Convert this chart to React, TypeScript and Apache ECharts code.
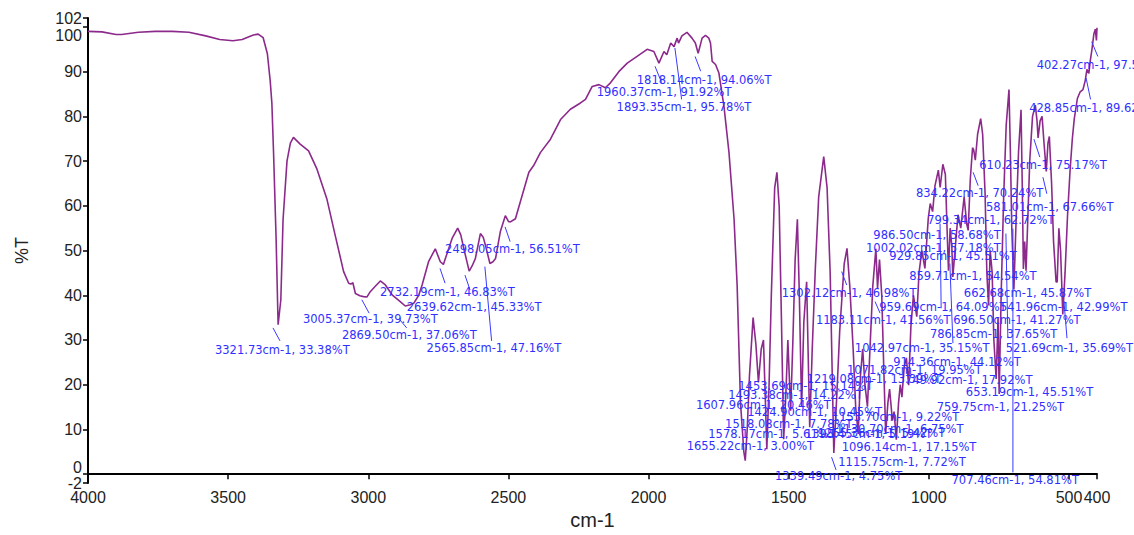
import React, { useEffect, useRef } from "react";
import * as echarts from "echarts";

// Spectrum (wavenumber cm-1, %T)
const wavenumbers = [
  4000, 3950, 3900, 3880, 3820, 3760, 3700, 3640, 3580, 3530, 3483, 3450, 3410, 3393, 3375, 3360, 3350, 3344, 3338, 3329,
  3321.7, 3312, 3304, 3290, 3278, 3267, 3243, 3213, 3183, 3148, 3118, 3088, 3070, 3062, 3055, 3046, 3030, 3017, 3005, 2993,
  2975, 2957, 2939, 2915, 2886, 2868, 2850, 2838, 2820, 2808, 2785, 2761, 2743, 2732, 2725, 2701, 2681, 2670, 2659, 2640,
  2630, 2618, 2600, 2590, 2582, 2566, 2555, 2546, 2529, 2511, 2500, 2493, 2475, 2451, 2427, 2410, 2386, 2350, 2314, 2279,
  2243, 2225, 2201, 2177, 2154, 2136, 2106, 2076, 2041, 2005, 1981, 1963, 1945, 1935, 1921, 1909, 1898, 1893, 1881, 1863,
  1845, 1833, 1823, 1809, 1797, 1785, 1779, 1773, 1761, 1749, 1731, 1713, 1695, 1684, 1672, 1660, 1655, 1648, 1640, 1627,
  1617, 1608, 1598, 1590, 1584, 1578, 1570, 1562, 1550, 1542, 1534, 1526, 1518, 1510, 1503, 1493, 1485, 1477, 1469, 1462,
  1454, 1446, 1436, 1425, 1416, 1405, 1393, 1375, 1363, 1352, 1339, 1328, 1318, 1302, 1292, 1282, 1270, 1261, 1252, 1244,
  1236, 1228, 1219, 1210, 1200, 1189, 1183, 1176, 1168, 1160, 1154, 1146, 1140, 1130, 1124, 1116, 1108, 1102, 1096, 1088,
  1080, 1072, 1064, 1055, 1043, 1035, 1025, 1014, 1002, 995, 986.5, 978, 966, 959.7, 950, 941, 935, 929.9, 924, 918,
  914.4, 904, 896, 886, 874, 865, 859.7, 852, 844, 840, 834.2, 826, 815, 808, 799.3, 793, 786.9, 781, 774, 768,
  759.8, 753, 749, 742, 733, 724, 714, 709, 704, 696.5, 688, 680, 671, 666, 662.7, 658, 653.2, 648, 640, 630,
  620, 614, 610.2, 603, 596, 589, 581, 575, 570, 562, 555, 546, 542, 536, 530, 522, 514, 505, 496, 488,
  481, 470, 460, 450, 442, 436, 429, 425, 418, 411, 406, 402, 400,
];
const transmittance = [
  99.0, 98.9, 98.3, 98.3, 98.8, 99.0, 99.0, 98.8, 98.0, 97.2, 96.9, 97.2, 98.2, 98.4, 97.6, 94, 88, 83, 72, 53,
  33.4, 39, 57, 70, 74, 75.3, 73.8, 72.3, 68.2, 61.6, 53.4, 45.3, 42.7, 42.5, 42.8, 40.4, 39.9, 39.7, 39.6, 40.8,
  42, 43.2, 42.3, 40.1, 38.6, 37.6, 37.9, 38.2, 40, 42.3, 47.5, 50.4, 47.5, 46.9, 48.2, 52.7, 55, 53.5, 50.4, 45.4,
  46.5, 48.2, 53.8, 53, 51.2, 47.1, 47.5, 48.2, 54.2, 57.8, 56.5, 56.4, 57.1, 62.3, 67.5, 69, 71.9, 74.9, 79.3, 81.6,
  83, 83.8, 86.7, 87.1, 86.4, 87.5, 90, 91.9, 93.4, 95, 94.5, 91.9, 94.5, 93.8, 96.4, 95.6, 97.5, 96.4, 98, 98.8,
  97.5, 96.4, 94.1, 97.5, 98.1, 97.5, 96.4, 92.3, 91.6, 89.7, 82.3, 71.9, 57.1, 42.3, 16, 5, 3.0, 10, 22, 35,
  29, 20.5, 28, 30, 18, 5.6, 20, 40, 64, 67.5, 60, 35, 7.8, 18, 30, 14.2, 30, 48, 57, 40,
  15.2, 34, 43, 10.5, 28, 46, 62, 71, 64, 45, 4.75, 18, 32, 47, 50.5, 42, 28, 15, 9, 22,
  28, 20, 15.1, 28, 42, 50.4, 41.6, 48, 40, 22, 9.2, 16, 19, 12, 14, 7.7, 16, 20, 17.2, 24,
  26, 19.9, 33, 40, 35.2, 45, 50, 46, 57.2, 60.5, 58.7, 64.5, 68, 64.1, 69.3, 67, 55, 45.5, 55, 51,
  44.1, 52, 58, 55, 62, 56, 54.5, 66, 73, 72.5, 70.2, 76, 79.5, 76, 62.7, 45, 37.7, 50, 45, 30,
  21.3, 35, 17.9, 40, 62, 78, 86, 72, 55, 41.3, 58, 72, 81.5, 62, 45.9, 52, 45.5, 55, 70, 80,
  82.5, 79, 75.2, 79, 80, 74, 67.7, 74, 75.5, 65, 52, 43, 43, 55, 50, 35.7, 45, 58, 68, 75,
  79.5, 84, 85.5, 86, 88, 90.5, 89.6, 92, 95, 98.5, 99.5, 97, 99.8,
];

const xTicks = [4000, 3500, 3000, 2500, 2000, 1500, 1000, 500, 400];
const yTicks = [-2, 0, 10, 20, 30, 40, 50, 60, 70, 80, 90, 100, 102];

// Peak annotations: text, label anchor (wavenumber, %T) at the text's left edge
const annotationTexts = [
  "3321.73cm-1, 33.38%T", "3005.37cm-1, 39.73%T", "2869.50cm-1, 37.06%T", "2732.19cm-1, 46.83%T",
  "2639.62cm-1, 45.33%T", "2565.85cm-1, 47.16%T", "2498.05cm-1, 56.51%T", "1818.14cm-1, 94.06%T",
  "1960.37cm-1, 91.92%T", "1893.35cm-1, 95.78%T", "402.27cm-1, 97.53%T", "428.85cm-1, 89.62%T",
  "610.23cm-1, 75.17%T", "834.22cm-1, 70.24%T", "581.01cm-1, 67.66%T", "799.34cm-1, 62.72%T",
  "986.50cm-1, 58.68%T", "1002.02cm-1, 57.18%T", "929.85cm-1, 45.51%T", "859.71cm-1, 54.54%T",
  "1302.12cm-1, 46.98%T", "662.68cm-1, 45.87%T", "959.69cm-1, 64.09%T", "541.96cm-1, 42.99%T",
  "1183.11cm-1, 41.56%T", "696.50cm-1, 41.27%T", "786.85cm-1, 37.65%T", "1042.97cm-1, 35.15%T",
  "521.69cm-1, 35.69%T", "914.36cm-1, 44.12%T", "1071.82cm-1, 19.95%T", "749.92cm-1, 17.92%T",
  "1219.08cm-1, 13.39%T", "653.19cm-1, 45.51%T", "759.75cm-1, 21.25%T", "1453.69cm-1, 15.14%T",
  "1493.38cm-1, 14.22%T", "1607.96cm-1, 20.46%T", "1424.90cm-1, 10.45%T", "1153.70cm-1, 9.22%T",
  "1130.70cm-1, 6.75%T", "1518.08cm-1, 7.78%T", "1578.17cm-1, 5.61%T", "1395.45cm-1, 5.19%T",
  "1255.36cm-1, 5.42%T", "1655.22cm-1, 3.00%T", "1096.14cm-1, 17.15%T", "1115.75cm-1, 7.72%T",
  "1339.49cm-1, 4.75%T", "707.46cm-1, 54.81%T",
];
const annotationW = [
  3547, 3233, 3094, 2958, 2863, 2792, 2726, 2042, 2185, 2114, 615, 642,
  820, 1046, 796, 1006, 1198, 1224, 1141, 1070, 1525, 875, 1177, 746,
  1403, 913, 996, 1264, 726, 1127, 1292, 1085, 1436, 868, 972, 1680,
  1716, 1831, 1648, 1346, 1331, 1727, 1787, 1442, 1396, 1864, 1311, 1323,
  1549, 919,
];
const annotationT = [
  27.8, 34.7, 31.1, 40.7, 37.3, 28.1, 50.3, 88.2, 85.4, 82.2, 91.4, 81.9,
  69.2, 62.8, 59.7, 56.9, 53.4, 50.6, 48.8, 44.3, 40.4, 40.6, 37.3, 37.3,
  34.5, 34.4, 31.3, 28.1, 28.1, 25.1, 23.2, 21.1, 21.3, 18.4, 15.1, 19.7,
  17.7, 15.4, 13.9, 12.7, 10.1, 11.2, 9.0, 8.9, 9.3, 6.2, 6.0, 2.8,
  -0.5, -1.4,
];

// Leader lines: [w1, t1, w2, t2]
const leaderLines = [
  [3340, 32.7, 3315, 29.8], [3023, 39.0, 2997, 36.0], [2887, 34.5, 2863, 32.7],
  [2744, 46.0, 2726, 42.7], [2655, 44.5, 2637, 41.2], [2584, 46.4, 2560, 29.8],
  [2512, 55.3, 2494, 52.0], [1834, 93.4, 1814, 90.1], [1977, 91.2, 1953, 87.5],
  [1906, 95.3, 1882, 83.8], [419, 96.7, 397, 93.4], [439, 88.6, 423, 83.8],
  [625, 74.9, 604, 70.9], [593, 66.4, 579, 62.7], [842, 67.5, 824, 64.5],
  [1311, 45.3, 1293, 42.3], [1192, 38.6, 1174, 36.0], [1347, 3.8, 1331, 0.95],
  [700, 54.9, 700, 0.4], [960, 56.0, 956, 37.1], [925, 47.1, 914, 29.3],
  [725, 53.8, 718, 30.4], [518, 38.7, 507, 30.4],
];

export default function App() {
  const ref = useRef<HTMLDivElement>(null);
  useEffect(() => {
    if (!ref.current) return;
    const chart = echarts.init(ref.current, null, { renderer: "svg" });
    const spectrum = wavenumbers.map((w, i) => [w, transmittance[i]]);
    const labelData = annotationW.map((w, i) => [w, annotationT[i]]);
    const axisColor = "#222";
    const axisFont = "Liberation Sans";
    chart.setOption({
      animation: false,
      grid: { left: 88, right: 37, top: 18, bottom: 49, containLabel: false },
      xAxis: {
        type: "value",
        min: 400,
        max: 4000,
        inverse: true,
        name: "cm-1",
        nameLocation: "middle",
        nameGap: 25,
        nameTextStyle: { fontSize: 20, color: axisColor, fontFamily: axisFont },
        axisLine: { lineStyle: { color: "#000", width: 2 } },
        axisTick: { show: true, length: 5, customValues: xTicks, lineStyle: { color: "#000", width: 1.5 } },
        axisLabel: {
          customValues: xTicks,
          fontSize: 16,
          color: axisColor,
          fontFamily: axisFont,
          margin: 6,
          formatter: (v: number) => String(v),
        },
        splitLine: { show: false },
      },
      yAxis: {
        type: "value",
        min: -2,
        max: 102,
        name: "%T",
        nameLocation: "middle",
        nameGap: 57,
        nameTextStyle: { fontSize: 18, color: axisColor, fontFamily: axisFont },
        axisLine: { show: true, lineStyle: { color: "#000", width: 2 } },
        axisTick: { show: true, length: 5, customValues: yTicks, lineStyle: { color: "#000", width: 1.5 } },
        axisLabel: {
          customValues: yTicks,
          fontSize: 16,
          color: axisColor,
          fontFamily: axisFont,
          margin: 6,
          formatter: (v: number) => (v === 0 ? "{up|0}" : v === 100 ? "{dn|100}" : String(v)),
          rich: {
            up: { fontSize: 16, color: axisColor, fontFamily: axisFont, padding: [0, 0, 14, 0] },
            dn: { fontSize: 16, color: axisColor, fontFamily: axisFont, padding: [18, 0, 0, 0] },
          },
        },
        splitLine: { show: false },
      },
      series: [
        {
          type: "line",
          data: spectrum,
          symbol: "none",
          smooth: false,
          lineStyle: { color: "#8c2a8c", width: 1.6 },
          z: 2,
        },
        {
          type: "custom",
          data: leaderLines,
          z: 3,
          renderItem: (params: any, api: any) => {
            const p1 = api.coord([api.value(0), api.value(1)]);
            const p2 = api.coord([api.value(2), api.value(3)]);
            return {
              type: "line",
              shape: { x1: p1[0], y1: p1[1], x2: p2[0], y2: p2[1] },
              style: { stroke: "#3a3aff", lineWidth: 1 },
            };
          },
        },
        {
          type: "custom",
          data: labelData,
          z: 4,
          renderItem: (params: any, api: any) => {
            const p = api.coord([api.value(0), api.value(1)]);
            return {
              type: "text",
              x: p[0],
              y: p[1],
              style: {
                text: annotationTexts[params.dataIndex],
                fill: "#3030ff",
                fontSize: 11.5,
                fontFamily: "DejaVu Sans",
                align: "left",
                verticalAlign: "middle",
                textAlign: "left",
                textVerticalAlign: "middle",
              },
            };
          },
        },
      ],
    });
    return () => chart.dispose();
  }, []);
  return (
    <div
      ref={ref}
      style={{ position: "fixed", left: 0, top: 0, width: 1134, height: 535, background: "#fff" }}
    />
  );
}
